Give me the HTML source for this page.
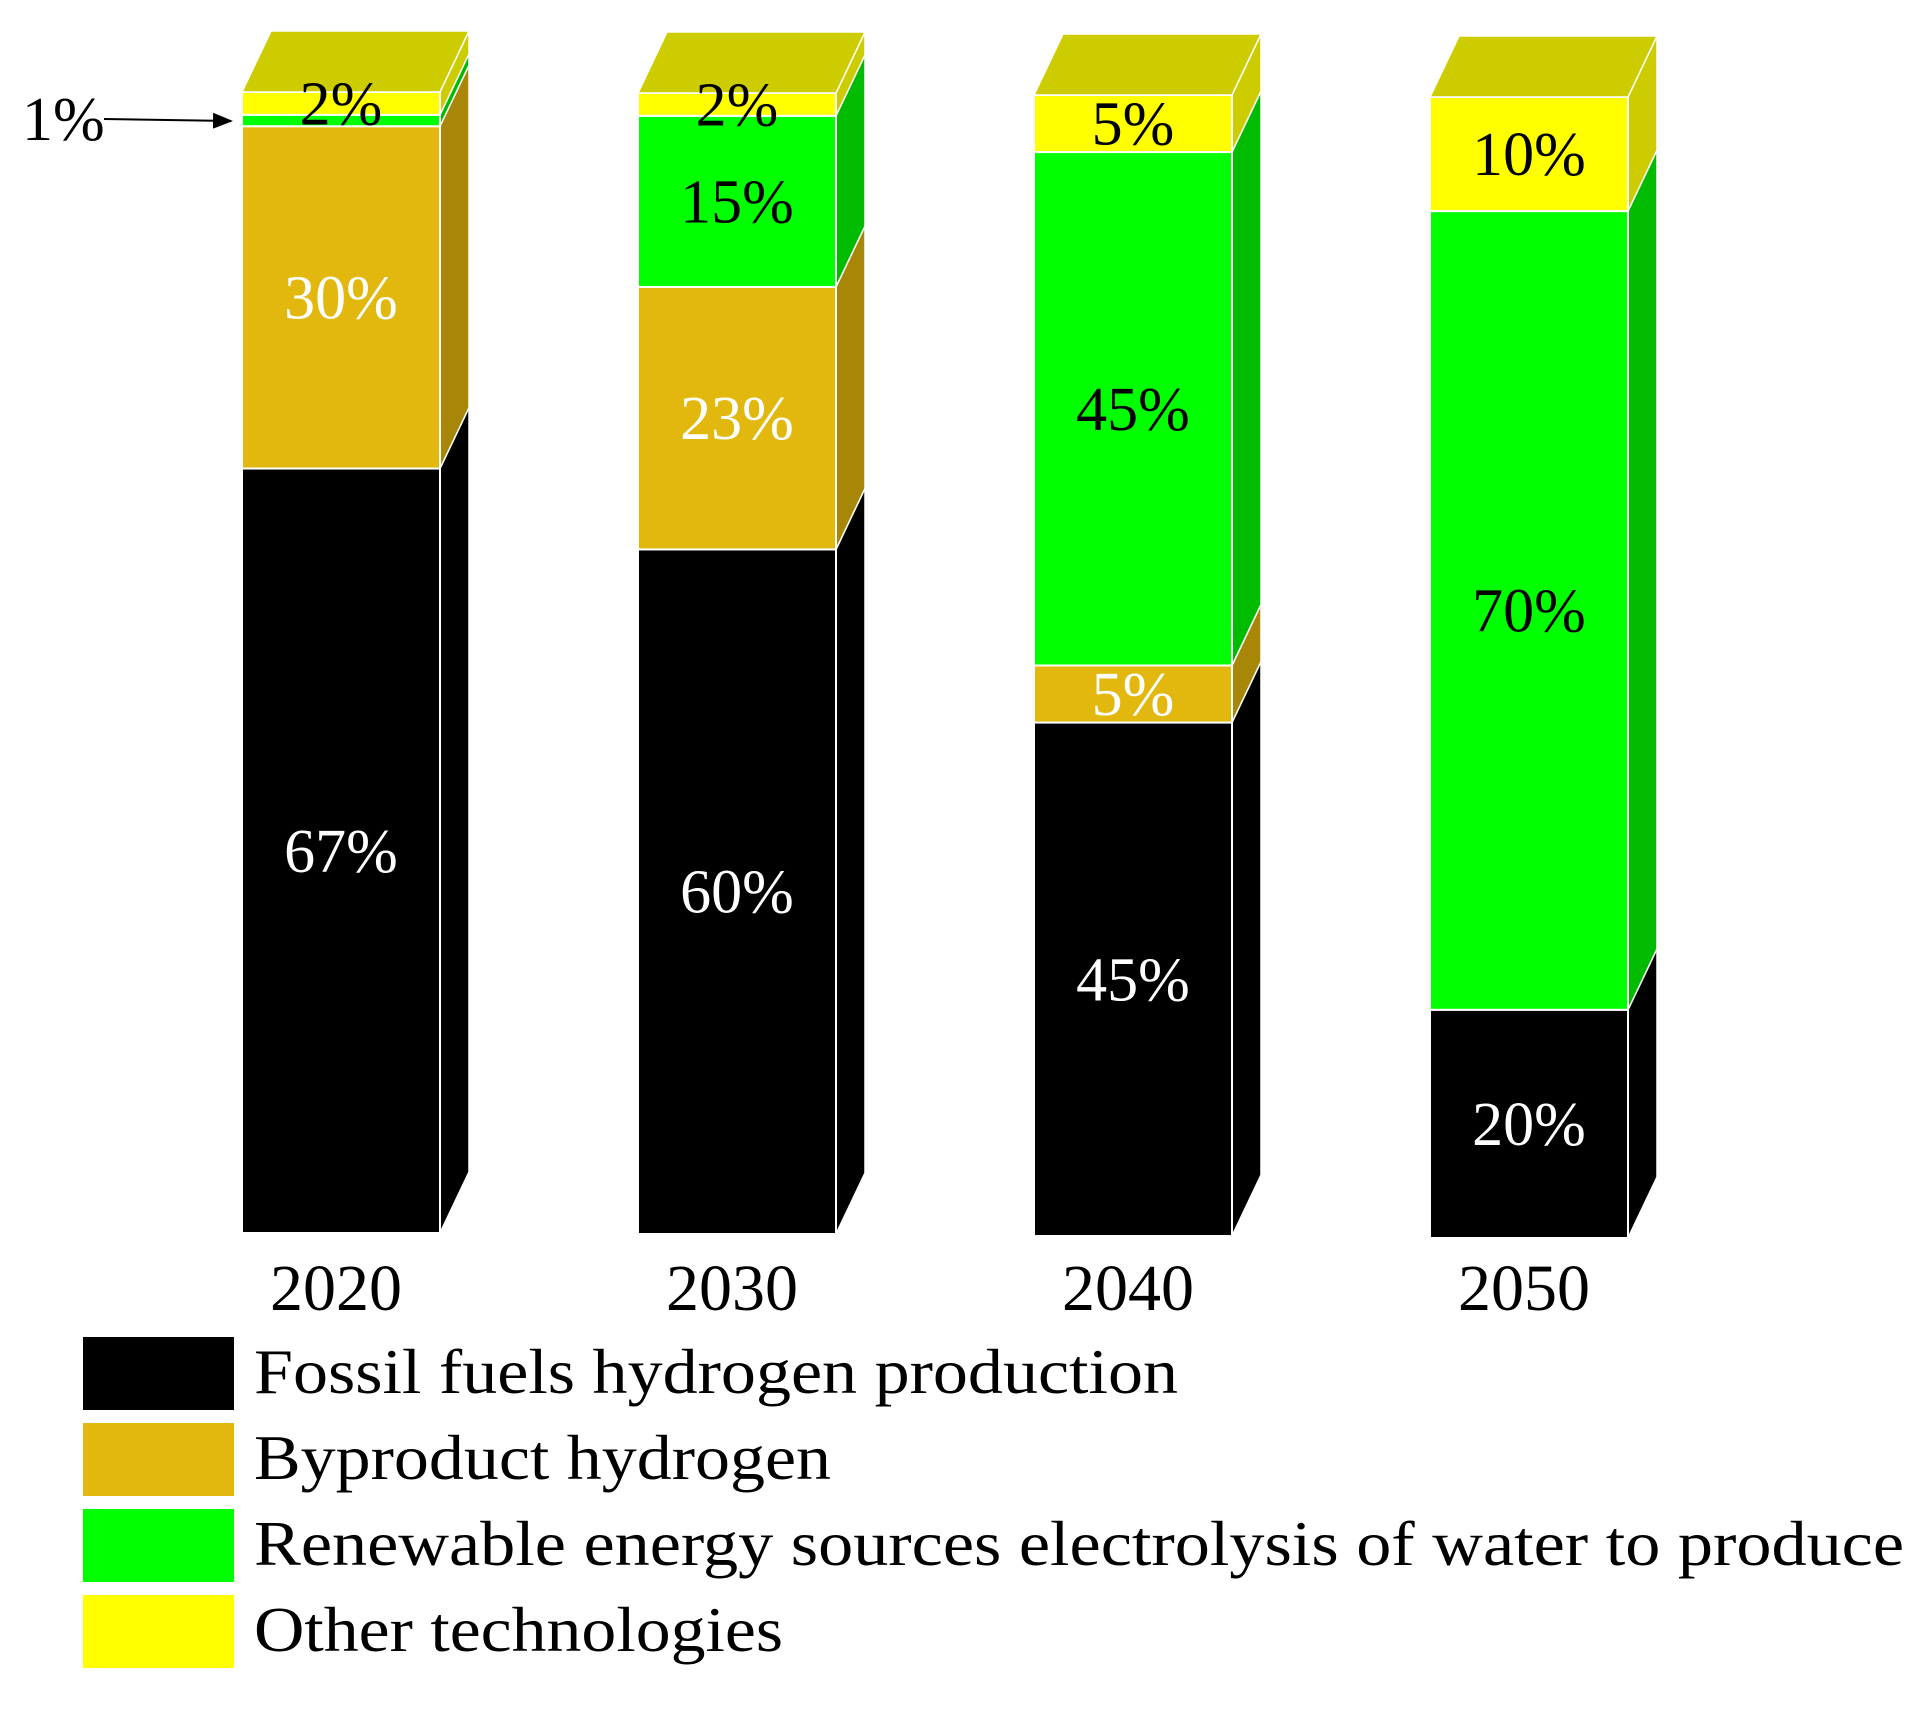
<!DOCTYPE html>
<html><head><meta charset="utf-8"><style>
html,body{margin:0;padding:0;background:#fff;}
svg{display:block;font-family:"Liberation Serif",serif;}
</style></head><body>
<svg id="chart" width="1924" height="1710" viewBox="0 0 1924 1710">
<defs><marker id="ah" markerWidth="10" markerHeight="8" refX="9" refY="4" orient="auto"><path d="M0,0 L10,4 L0,8 z" fill="#000"/></marker></defs>
<g id="bars"></g>
<g id="legend"></g>
<text x="22" y="140" font-size="62">1%</text>
<line x1="104" y1="119" x2="231" y2="121" stroke="#000" stroke-width="2" marker-end="url(#ah)"/>
</svg>
<script>
const categories = ["2020","2030","2040","2050"];
const fossil = [67,60,45,20];
const byproduct = [30,23,5,0];
const renewable = [1,15,45,70];
const other = [2,2,5,10];
const seriesNames = ["Fossil fuels hydrogen production","Byproduct hydrogen","Renewable energy sources electrolysis of water to produce","Other technologies"];
const seriesKeys = ["fossil","byproduct","renewable","other"];

const series=[fossil,byproduct,renewable,other];
const front=["#000000","#E2B80E","#00FF00","#FFFF00"];
const side=["#000000","#A88608","#00BB00","#CCCC00"];
const txtCol=["#fff","#fff","#000","#000"];
const NS="http://www.w3.org/2000/svg";
const baseY=[1233,1234,1236,1238];
const x0=242, step=396, bw=198, dx=29, dy=61, pxPer=11.41;
function xs(i){return x0+step*i;}
function ys(i,v){return baseY[i]-v*pxPer;}
function mk(tag,attrs,parent){const e=document.createElementNS(NS,tag);for(const k in attrs)e.setAttribute(k,attrs[k]);parent.appendChild(e);return e;}
const gb=document.getElementById('bars');
categories.forEach((c,i)=>{
  const x=xs(i);let cum=0;let topY=baseY[i];
  series.forEach((s,j)=>{
    const v=s[i]; if(v<=0) return;
    const yb=ys(i,cum), yt=ys(i,cum+v); cum+=v; topY=yt;
    const sd=mk('polygon',{points:`${x+bw},${yb} ${x+bw+dx},${yb-dy} ${x+bw+dx},${yt-dy} ${x+bw},${yt}`,fill:side[j],stroke:'#fff','stroke-width':1.5},gb);
    
    
    const r=mk('rect',{x:x,y:yt,width:bw,height:yb-yt,fill:front[j],stroke:'#fff','stroke-width':2},gb);
    
    
  });
  const tp=mk('polygon',{points:`${x},${topY} ${x+dx},${topY-dy} ${x+bw+dx},${topY-dy} ${x+bw},${topY}`,fill:'#CCCC00',stroke:'#fff','stroke-width':1.5},gb);
  
  
  cum=0;
  series.forEach((s,j)=>{
    const v=s[i]; if(v<=0) return;
    const yc=(ys(i,cum)+ys(i,cum+v))/2; cum+=v;
    if(j===2 && v<2) return;
    const t=mk('text',{x:x+bw/2,y:yc+21,'text-anchor':'middle','font-size':62,fill:txtCol[j]},gb);
    t.textContent=v+'%';
    
    
  });
  const yl=mk('text',{x:x+bw/2-5,y:1310,'text-anchor':'middle','font-size':66,fill:'#000'},gb);
  yl.textContent=c;
  
  
});
const gl=document.getElementById('legend');
const lw=[924,577,1650,529];
seriesNames.forEach((n,j)=>{
  const y=1337+j*86;
  const b=mk('rect',{x:83,y:y,width:151,height:73,fill:front[j]},gl);
  
  
  const t=mk('text',{x:254,y:y+56,'font-size':64,fill:'#000',textLength:lw[j],lengthAdjust:'spacingAndGlyphs'},gl);
  t.textContent=n;
  
  
});
</script>
</body></html>
